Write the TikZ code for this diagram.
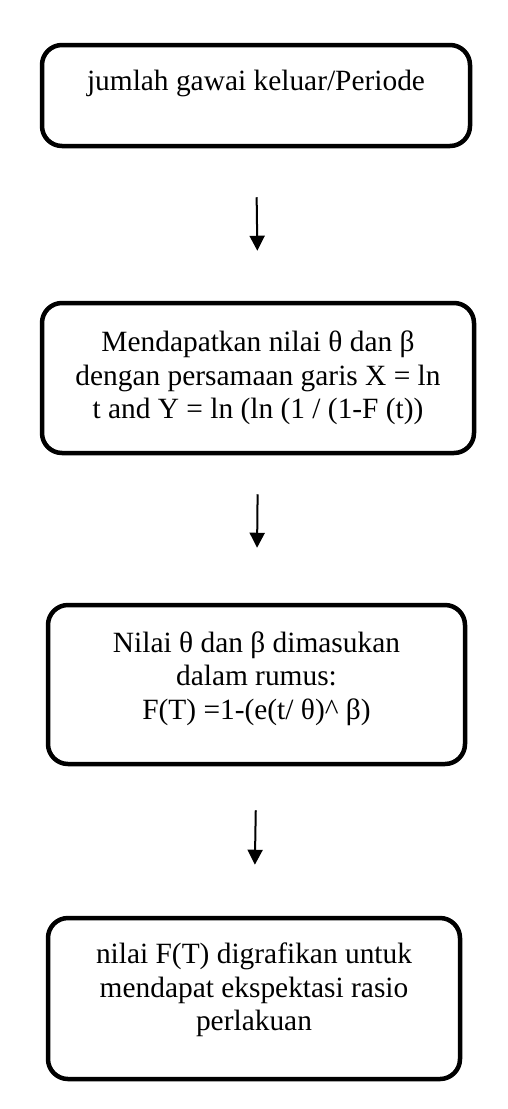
\documentclass[tikz,border=0pt]{standalone}
\usepackage{fontspec}
\setmainfont{Liberation Serif}
\usetikzlibrary{arrows.meta}
\tikzset{
  stepbox/.style={draw=black, line width=2.25pt, rounded corners=10pt, align=center,
    inner sep=0pt, font=\fontsize{14.7pt}{16.8pt}\selectfont},
  flowarrow/.style={-{Triangle[width=7.5pt,length=7.5pt]}, line width=1pt}
}
\begin{document}
\begin{tikzpicture}[x=0.5pt,y=-0.5pt]
\useasboundingbox (0,0) rectangle (508,1109);
\node[stepbox, minimum width=214pt, minimum height=50.5pt, text depth=15pt] (data) at (256,95.5)
  {jumlah gawai keluar/Periode};
\node[stepbox, minimum width=216pt, minimum height=75pt] (param) at (258,378)
  {Mendapatkan nilai θ dan β\\dengan persamaan garis X = ln\\t and Y = ln (ln (1 / (1-F (t))};
\node[stepbox, minimum width=208.5pt, minimum height=79.5pt, text depth=9pt] (rumus) at (256.5,684.5)
  {Nilai θ dan β dimasukan\\dalam rumus:\\F(T) =1-(e(t/ θ)\textasciicircum{} β)};
\node[stepbox, minimum width=206pt, minimum height=80.5pt, text depth=11.5pt] (grafik) at (254,998.5)
  {nilai F(T) digrafikan untuk\\mendapat ekspektasi rasio\\perlakuan};
\draw[flowarrow, shorten <=24.5pt, shorten >=25pt] (data.south) -- (param.north);
\draw[flowarrow, shorten <=19.5pt, shorten >=27.5pt] (param.south) -- (rumus.north);
\draw[flowarrow, shorten <=22pt, shorten >=25.5pt] (rumus.south) -- (grafik.north);
\end{tikzpicture}
\end{document}
